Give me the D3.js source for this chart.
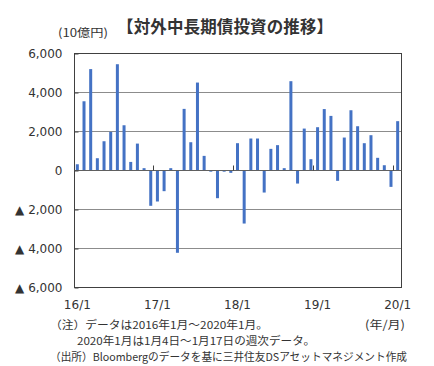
<!DOCTYPE html>
<html><head><meta charset="utf-8">
<script src="https://cdn.jsdelivr.net/npm/d3@7"></script>
<style>body{margin:0;background:#fff;} svg{display:block;}</style>
</head><body>
<svg id="c" width="434" height="366"></svg>
<script>
const months = [];
for (let yr = 2016; yr <= 2020; yr++) for (let m = 1; m <= 12; m++) { if (yr === 2020 && m > 1) break; months.push(yr + "-" + m); }
const values = [
  320, 3550, 5200, 630, 1500, 1980, 5450, 2320, 440, 1380, 120, -1810,
  -1590, -1060, 120, -4220, 3160, 1450, 4510, 750, -60, -1420, -60, -120,
  1400, -2720, 1640, 1640, -1130, 1110, 1300, 120, 4580, -670, 2150, 580,
  2220, 3150, 2800, -530, 1690, 3090, 2270, 1400, 1810, 650, 270, -840,
  2530
];
const yTicks = [-6000, -4000, -2000, 0, 2000, 4000, 6000];
const yTickLabels = ["▲ 6,000", "▲ 4,000", "▲ 2,000", "0", "2,000", "4,000", "6,000"];
const xTickMonths = ["2016-1", "2017-1", "2018-1", "2019-1", "2020-1"];
const xTickLabels = ["16/1", "17/1", "18/1", "19/1", "20/1"];
const title = "【対外中長期債投資の推移】";
const unit = "(10億円)";
const xUnit = "(年/月)";
const notes = [
  "（注）データは2016年1月～2020年1月。",
  "2020年1月は1月4日～1月17日の週次データ。",
  "（出所）Bloombergのデータを基に三井住友DSアセットマネジメント作成"
];

const svg = d3.select("#c");
const L = 74.5, R = 401.5, T = 53.5, B = 287.5;
const x = d3.scaleBand().domain(months).range([L - 0.5, R - 0.5]).padding(0);
const y = d3.scaleLinear().domain([-6000, 6000]).range([B, T]);
const numFont = "'DejaVu Sans', sans-serif";
const jpFont = "'Noto Sans CJK JP', sans-serif";

// gridlines
svg.append("g").selectAll("line").data(yTicks.filter(d => d !== 0 && d !== 6000 && d !== -6000)).join("line")
  .attr("x1", L).attr("x2", R).attr("y1", d => y(d)).attr("y2", d => y(d))
  .attr("stroke", "#8c8c8c").attr("stroke-width", 1);

// bars
const bw = 3;
svg.append("g").selectAll("rect").data(values).join("rect")
  .attr("x", (d, i) => x(months[i]) + x.bandwidth() / 2 - bw / 2)
  .attr("width", bw)
  .attr("y", d => y(Math.max(0, d)))
  .attr("height", d => Math.max(1, Math.abs(y(d) - y(0))))
  .attr("fill", "#4472c4");

// frame
svg.append("rect").attr("x", L).attr("y", T).attr("width", R - L).attr("height", B - T)
  .attr("fill", "none").attr("stroke", "#404040").attr("stroke-width", 1);

// zero line
svg.append("line").attr("x1", L).attr("x2", R).attr("y1", y(0)).attr("y2", y(0))
  .attr("stroke", "#606060").attr("stroke-width", 1);

// year ticks on zero line
svg.append("g").selectAll("line").data(xTickMonths.slice(1)).join("line")
  .attr("x1", d => Math.round(x(d)) - 0.5).attr("x2", d => Math.round(x(d)) - 0.5)
  .attr("y1", y(0)).attr("y2", y(0) - 5)
  .attr("stroke", "#404040");

// y axis
const yAxis = d3.axisLeft(y).tickValues(yTicks).tickSize(-4).tickPadding(12)
  .tickFormat((d, i) => yTickLabels[i]);
const gy = svg.append("g").attr("transform", `translate(${L},0)`).call(yAxis);
gy.select(".domain").remove();
gy.selectAll(".tick line").attr("stroke", "#404040");
gy.selectAll(".tick text").attr("font-family", numFont).attr("font-size", 12).attr("fill", "#333");

// x axis
const xAxis = d3.axisBottom(x).tickValues(xTickMonths).tickSize(0).tickPadding(13)
  .tickFormat((d, i) => xTickLabels[i]);
const gx = svg.append("g").attr("transform", `translate(0,${B})`).call(xAxis);
gx.select(".domain").remove();
gx.selectAll(".tick text").attr("font-family", numFont).attr("font-size", 12).attr("fill", "#333");

// title
svg.append("text").attr("x", 225).attr("y", 33).attr("text-anchor", "middle")
  .attr("font-family", jpFont).attr("font-weight", "bold").attr("font-size", 16.5)
  .attr("fill", "#333").attr("textLength", 216).text(title);
svg.append("text").attr("x", 58).attr("y", 37)
  .attr("font-family", jpFont).attr("font-size", 11.5).attr("fill", "#333")
  .attr("textLength", 50).attr("lengthAdjust", "spacingAndGlyphs").text(unit);

// x unit
svg.append("text").attr("x", 365).attr("y", 329)
  .attr("font-family", jpFont).attr("font-size", 11.5).attr("fill", "#333")
  .attr("textLength", 40).attr("lengthAdjust", "spacingAndGlyphs").text(xUnit);

// notes
const noteX = [50, 77, 50], noteY = [329, 345, 361], noteW = [218, 238, 357];
svg.append("g").selectAll("text").data(notes).join("text")
  .attr("x", (d, i) => noteX[i]).attr("y", (d, i) => noteY[i])
  .attr("font-family", jpFont).attr("font-size", 11).attr("fill", "#333")
  .attr("textLength", (d, i) => noteW[i]).attr("lengthAdjust", "spacingAndGlyphs")
  .text(d => d);
</script>
</body></html>
